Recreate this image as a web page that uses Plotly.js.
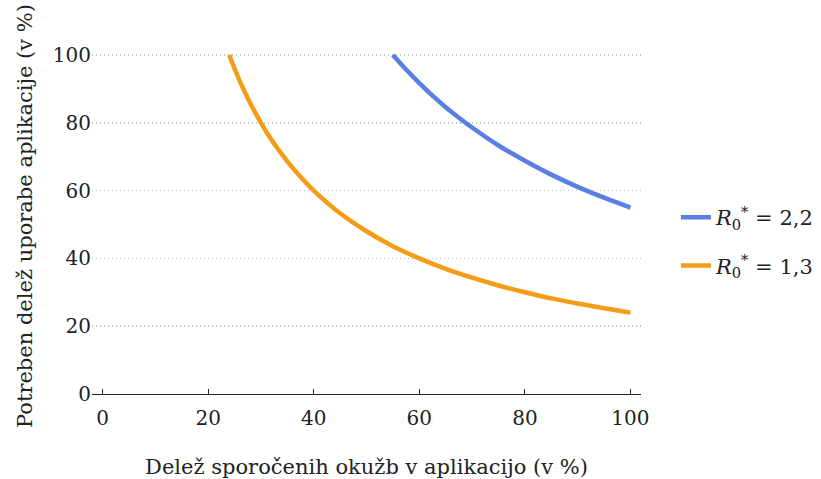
<!DOCTYPE html>
<html>
<head>
<meta charset="utf-8">
<script src="https://cdn.plot.ly/plotly-3.0.1.min.js"></script>
<style>html,body{margin:0;padding:0;background:#fff;}#chart{width:821px;height:479px;}</style>
</head>
<body>
<div id="chart"></div>
<script>
// Values
const blueX = [55, 57.5, 60, 62.5, 65, 67.5, 70, 75, 80, 85, 90, 95, 100];
const blueY = [100, 95.7, 91.7, 88, 84.6, 81.5, 78.6, 73.3, 68.8, 64.7, 61.1, 57.9, 55];
const orangeX = [24, 25, 26, 28, 30, 32, 35, 38, 40, 45, 50, 55, 60, 65, 70, 75, 80, 85, 90, 95, 100];
const orangeY = [100, 96, 92.3, 85.7, 80, 75, 68.6, 63.2, 60, 53.3, 48, 43.6, 40, 36.9, 34.3, 32, 30, 28.2, 26.7, 25.3, 24];
const blueName = '<i>R</i><sub>0</sub><sup>*</sup> = 2,2';
const orangeName = '<i>R</i><sub>0</sub><sup>*</sup> = 1,3';
const xTicks = [0, 20, 40, 60, 80, 100];
const yTicks = [0, 20, 40, 60, 80, 100];

const font = 'DejaVu Serif';
const data = [
  {x: blueX, y: blueY, name: blueName, mode: 'lines', line: {color: '#5a7fe3', width: 4.5, shape: 'spline'}, legendgroup: 'a'},
  {x: orangeX, y: orangeY, name: orangeName, mode: 'lines', line: {color: '#f59c17', width: 4.5, shape: 'spline'}, legendgroup: 'b'}
];
const layout = {
  width: 821, height: 479,
  margin: {l: 92, r: 0, t: 38, b: 85},
  paper_bgcolor: '#fff', plot_bgcolor: '#fff',
  font: {family: font, size: 20, color: '#222'},
  showlegend: true,
  legend: {x: 0.801, xanchor: 'left', y: 0.553, yanchor: 'top', font: {family: font, size: 21}, tracegroupgap: 18, itemwidth: 30},
  xaxis: {
    domain: [0, 0.7531],
    range: [-2, 102], tickvals: xTicks, ticktext: xTicks.map(String),
    tickfont: {family: font, size: 20}, ticklabelstandoff: 6,
    showgrid: false, zeroline: false, showline: true, linecolor: '#222', linewidth: 1,
    ticks: 'inside', ticklen: 5, tickcolor: '#222',
    title: {text: 'Delež sporočenih okužb v aplikacijo (v %)', font: {family: font, size: 21}, standoff: 30},
    fixedrange: true
  },
  yaxis: {
    range: [0, 105], tickvals: yTicks, ticktext: yTicks.map(String),
    tickfont: {family: font, size: 20},
    showgrid: true, gridcolor: '#c0c0c0', griddash: '1px,3px', gridwidth: 1.5,
    zeroline: false, showline: false, ticks: '',
    title: {text: 'Potreben delež uporabe aplikacije (v %)', font: {family: font, size: 21}, standoff: 14},
    fixedrange: true
  }
};
Plotly.newPlot('chart', data, layout, {displayModeBar: false, staticPlot: true});
</script>
</body>
</html>
